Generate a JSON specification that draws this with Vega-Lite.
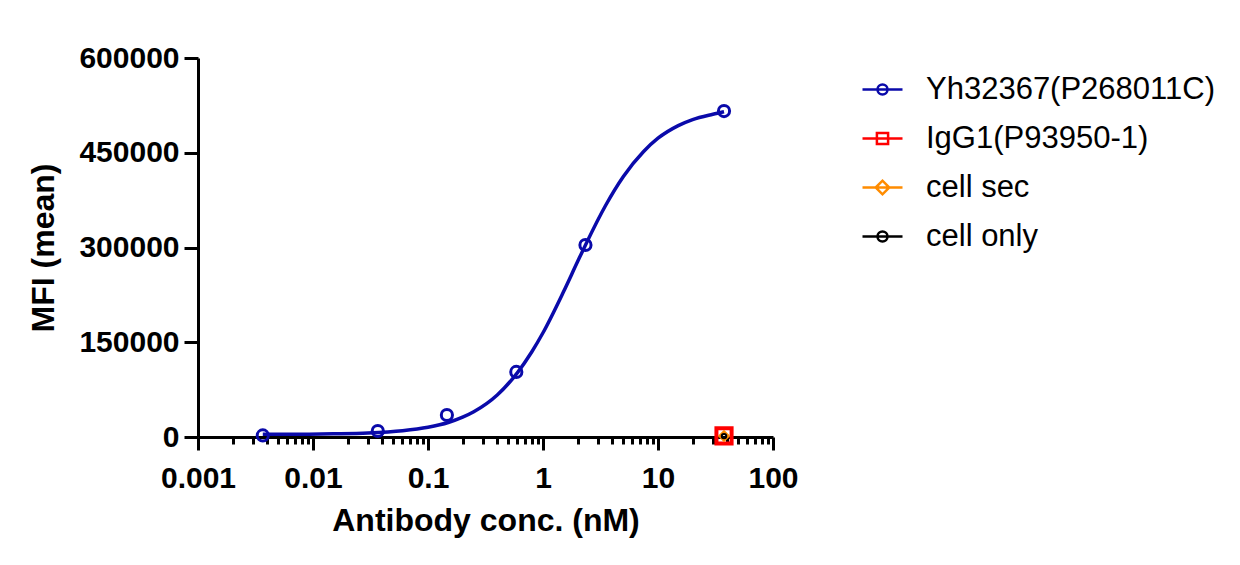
{
  "$schema": "https://vega.github.io/schema/vega-lite/v6.json",
  "width": 575,
  "height": 379,
  "autosize": "none",
  "padding": {"left": 198, "top": 58, "right": 467, "bottom": 128},
  "background": "white",
  "config": {
    "font": "Liberation Sans",
    "view": {"stroke": null},
    "axis": {
      "domainColor": "black",
      "domainWidth": 3,
      "tickColor": "black",
      "tickWidth": 3,
      "labelColor": "black",
      "labelFont": "Liberation Sans",
      "labelFontWeight": "bold",
      "labelFontSize": 30,
      "titleColor": "black",
      "titleFont": "Liberation Sans",
      "titleFontWeight": "bold",
      "titleFontSize": 32,
      "grid": false
    },
    "legend": {
      "orient": "right",
      "offset": 78,
      "padding": 10,
      "title": null,
      "labelFont": "Liberation Sans",
      "labelFontSize": 31,
      "labelColor": "black",
      "labelOffset": 22,
      "symbolSize": 1600,
      "symbolStrokeWidth": 2.5,
      "symbolOpacity": 1,
      "symbolFillColor": "transparent",
      "rowPadding": 12,
      "labelLimit": 400
    }
  },
  "datasets": {
    "points": [
      {"series": "Yh32367(P268011C)", "conc": 0.00366, "mfi": 2500},
      {"series": "Yh32367(P268011C)", "conc": 0.0366, "mfi": 9500},
      {"series": "Yh32367(P268011C)", "conc": 0.146, "mfi": 34800},
      {"series": "Yh32367(P268011C)", "conc": 0.586, "mfi": 103000},
      {"series": "Yh32367(P268011C)", "conc": 2.34, "mfi": 304000},
      {"series": "Yh32367(P268011C)", "conc": 37.5, "mfi": 516000},
      {"series": "IgG1(P93950-1)", "conc": 37.5, "mfi": 1800},
      {"series": "cell sec", "conc": 37.5, "mfi": 1600},
      {"series": "cell only", "conc": 37.5, "mfi": 1400}
    ],
    "curve": [
      {"conc": 0.00366, "mfi": 4200},
      {"conc": 0.0075, "mfi": 4400},
      {"conc": 0.015, "mfi": 5100},
      {"conc": 0.03, "mfi": 6400},
      {"conc": 0.06, "mfi": 10000},
      {"conc": 0.1, "mfi": 15500},
      {"conc": 0.15, "mfi": 23000},
      {"conc": 0.2, "mfi": 31400},
      {"conc": 0.25, "mfi": 40000},
      {"conc": 0.4, "mfi": 66500},
      {"conc": 0.6, "mfi": 102000},
      {"conc": 0.8, "mfi": 135000},
      {"conc": 1.0, "mfi": 165000},
      {"conc": 1.5, "mfi": 229000},
      {"conc": 2.0, "mfi": 277700},
      {"conc": 2.37, "mfi": 306000},
      {"conc": 3.5, "mfi": 366500},
      {"conc": 5, "mfi": 412500},
      {"conc": 7.5, "mfi": 452000},
      {"conc": 10, "mfi": 473000},
      {"conc": 15, "mfi": 493000},
      {"conc": 20, "mfi": 502500},
      {"conc": 30, "mfi": 511000},
      {"conc": 37.5, "mfi": 515000}
    ]
  },
  "encoding": {
    "x": {
      "field": "conc",
      "type": "quantitative",
      "scale": {"type": "log", "domain": [0.001, 100]},
      "axis": {
        "title": "Antibody conc. (nM)",
        "values": [0.001, 0.002, 0.003, 0.004, 0.005, 0.006, 0.007, 0.008, 0.009,
                   0.01, 0.02, 0.03, 0.04, 0.05, 0.06, 0.07, 0.08, 0.09,
                   0.1, 0.2, 0.3, 0.4, 0.5, 0.6, 0.7, 0.8, 0.9,
                   1, 2, 3, 4, 5, 6, 7, 8, 9,
                   10, 20, 30, 40, 50, 60, 70, 80, 90, 100],
        "labelExpr": "indexof([0.001, 0.01, 0.1, 1, 10, 100], datum.value) >= 0 ? format(datum.value, '~g') : ''",
        "tickSize": {"condition": {"test": "indexof([0.001, 0.01, 0.1, 1, 10, 100], datum.value) >= 0", "value": 13}, "value": 7},
        "labelPadding": 13,
        "labelOverlap": false,
        "labelBound": false,
        "labelFlush": false,
        "titlePadding": 12
      }
    },
    "y": {
      "field": "mfi",
      "type": "quantitative",
      "scale": {"domain": [0, 600000], "nice": false, "zero": true},
      "axis": {
        "title": "MFI (mean)",
        "values": [0, 150000, 300000, 450000, 600000],
        "format": "d",
        "tickSize": 14,
        "labelPadding": 5,
        "titlePadding": 18
      }
    }
  },
  "layer": [
    {
      "data": {"name": "curve"},
      "mark": {"type": "line", "color": "#0A0AAA", "strokeWidth": 3.5, "interpolate": "monotone"}
    },
    {
      "data": {"name": "points"},
      "transform": [{"filter": "datum.series === 'Yh32367(P268011C)'"}],
      "mark": {"type": "point", "shape": "circle", "filled": false, "color": "#0A0AAA", "strokeWidth": 3, "size": 125, "opacity": 1}
    },
    {
      "data": {"name": "points"},
      "transform": [{"filter": "datum.series === 'IgG1(P93950-1)'"}],
      "mark": {"type": "point", "shape": "square", "filled": false, "color": "#FF0000", "strokeWidth": 4, "size": 230, "opacity": 1}
    },
    {
      "data": {"name": "points"},
      "transform": [{"filter": "datum.series === 'cell sec'"}],
      "mark": {"type": "point", "shape": "diamond", "filled": false, "color": "#FF8C00", "strokeWidth": 3, "size": 70, "opacity": 1}
    },
    {
      "data": {"name": "points"},
      "transform": [{"filter": "datum.series === 'cell only'"}],
      "mark": {"type": "point", "shape": "circle", "filled": false, "color": "black", "strokeWidth": 2, "size": 20, "opacity": 1}
    },
    {
      "data": {"name": "points"},
      "transform": [{"filter": "datum.mfi < 0"}],
      "mark": {"type": "point", "filled": false, "strokeWidth": 2.5, "opacity": 1},
      "encoding": {
        "color": {
          "field": "series",
          "type": "nominal",
          "scale": {
            "domain": ["Yh32367(P268011C)", "IgG1(P93950-1)", "cell sec", "cell only"],
            "range": ["#0A0AAA", "#FF0000", "#FF8C00", "black"]
          }
        },
        "shape": {
          "field": "series",
          "type": "nominal",
          "scale": {
            "domain": ["Yh32367(P268011C)", "IgG1(P93950-1)", "cell sec", "cell only"],
            "range": [
              "M-1,0H-0.25M0.25,0H1M-0.25,0A0.25,0.25 0 1,1 0.25,0A0.25,0.25 0 1,1 -0.25,0M-0.25,0H0.25",
              "M-1,0H1M-0.28,-0.28H0.28V0.28H-0.28Z",
              "M-1,0H1M-0.34,0L0,-0.34L0.34,0L0,0.34Z",
              "M-1,0H-0.25M0.25,0H1M-0.25,0A0.25,0.25 0 1,1 0.25,0A0.25,0.25 0 1,1 -0.25,0M-0.25,0H0.25"
            ]
          }
        }
      }
    }
  ]
}
